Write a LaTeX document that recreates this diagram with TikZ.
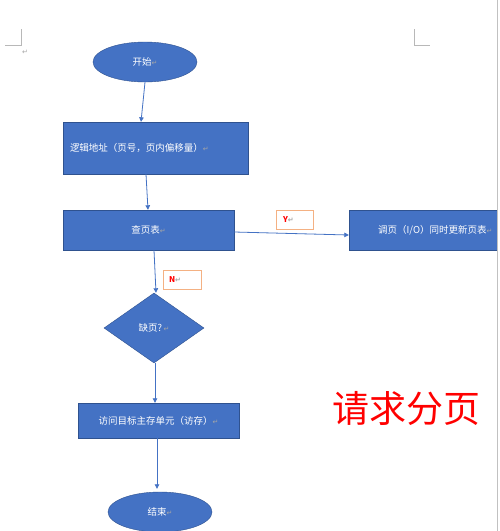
\documentclass[tikz,border=0pt]{standalone}
\usepackage{fontspec}
\setmainfont{Noto Sans CJK SC}
\newfontfamily\symfont{DejaVu Sans}
\usetikzlibrary{shapes.geometric,arrows.meta}
\definecolor{wblue}{HTML}{4472C4}
\definecolor{wborder}{HTML}{2F528F}
\definecolor{worange}{HTML}{F4B183}
\definecolor{wgray}{HTML}{A6A6A6}
\definecolor{wred}{HTML}{FF0000}
\newcommand\retmark{{\symfont\color{wgray}\fontsize{7}{7}\selectfont ↵}}
\begin{document}
\begin{tikzpicture}[x=1pt,y=-1pt,
  shp/.style={draw=wborder, line width=0.4pt, fill=wblue, inner sep=0pt, text=white,
              font=\fontsize{9.5}{10}\selectfont},
  boxshape/.style={shp, rectangle},
  ovalshape/.style={shp, ellipse, minimum width=104pt, minimum height=40pt},
  tag/.style={draw=worange, line width=0.6pt, fill=white, inner ysep=0pt, minimum height=19pt,
              align=left, text=wred, font=\fontsize{8}{9}\selectfont\bfseries},
  conn/.style={draw=wblue, line width=0.8pt, -{Triangle[length=4.5pt,width=4.5pt]}},
  cornermark/.style={draw=wgray!80, line width=0.6pt}]
\fill[white] (0,0) rectangle (500,531);
\useasboundingbox (0,0) rectangle (500,531);
% page corner marks
\coordinate (cl) at (21,45);
\coordinate (cr) at (414,45);
\draw[cornermark] (21,29) -- (cl) -- (5,45);
\draw[cornermark] (414,29) -- (cr) -- (430,45);
\node[inner sep=0pt] (pm) at (25,52) {\retmark};
% shapes
\node[ovalshape] (start) at (145,62) {开始\retmark};
\node[boxshape, minimum width=185pt, minimum height=52pt, text width=171pt, align=left] (addr) at (155.5,148)
  {逻辑地址（页号，页内偏移量）\retmark};
\node[boxshape, minimum width=171pt, minimum height=40pt] (lookup) at (148.5,230) {查页表\retmark};
\node[boxshape, minimum width=148pt, minimum height=40pt] (swap) at (423,230) {};
\node[text=white, font=\fontsize{9.5}{10}\selectfont, inner sep=0pt, anchor=west] (swaptxt) at (378,230)
  {调页（I/O）同时更新页表\retmark};
\node[shp, diamond, minimum width=100pt, minimum height=70pt] (miss) at (154,328) {缺页?\,\retmark};
\node[boxshape, minimum width=161pt, minimum height=35pt] (access) at (158.5,420.5)
  {访问目标主存单元（访存）\retmark};
\node[ovalshape] (stop) at (160,512) {结束\retmark};
% Y / N tags
\node[tag, inner xsep=7pt, text width=23pt] (ytag) at (294.5,219.5) {Y\retmark};
\node[tag, inner xsep=6pt, text width=26pt] (ntag) at (182,279.5) {N\retmark};
% big red text
\node[text=wred, font=\fontsize{37}{40}\selectfont, inner sep=0pt] (title) at (406,408) {请求分页};
% connectors
\draw[conn] (start.south) -- ([xshift=-14.5pt]addr.north);
\draw[conn] ([xshift=-9.5pt]addr.south) -- ([xshift=-0.5pt]lookup.north);
\draw[conn] ([yshift=-2pt]lookup.east) -- ([yshift=-5pt]swap.west);
\draw[conn] ([xshift=5.5pt]lookup.south) -- ([xshift=2pt]miss.north);
\draw[conn] ([xshift=1pt]miss.south) -- ([xshift=-3.5pt]access.north);
\draw[conn, shorten >=3pt] ([xshift=-1.5pt]access.south) -- ([xshift=-3pt]stop.north);
% window edge
\fill[white] (497,0) rectangle (500,531);
\draw[draw=wgray!70, line width=0.8pt] (497,0) -- (497,531);
\end{tikzpicture}
\end{document}
